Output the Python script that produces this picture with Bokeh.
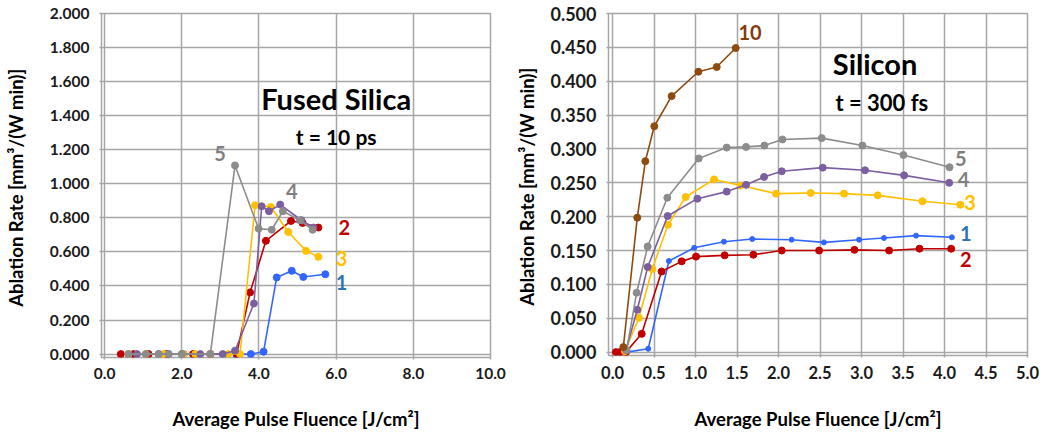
from bokeh.plotting import figure
from bokeh.layouts import row
from bokeh.models import Range1d, Label, NumeralTickFormatter, FixedTicker
from bokeh.embed import file_html
from bokeh.resources import INLINE

# ---------------- Fused Silica (t = 10 ps) ----------------
fs_x1 = [0.62, 1.07, 1.66, 2.05, 2.74, 3.42, 3.79, 4.12, 4.46, 4.85, 5.15, 5.72]
fs_y1 = [0, 0, 0, 0, 0, 0, 0, 0.014, 0.450, 0.489, 0.453, 0.469]
fs_x2 = [0.42, 0.75, 1.14, 1.60, 2.29, 2.74, 3.42, 3.77, 4.18, 4.83, 5.13, 5.54]
fs_y2 = [0, 0, 0, 0, 0, 0, 0, 0.362, 0.665, 0.782, 0.770, 0.743]
fs_x3 = [0.62, 1.07, 1.53, 2.05, 2.35, 2.74, 3.20, 3.51, 3.90, 4.31, 4.76, 5.22, 5.54]
fs_y3 = [0, 0, 0, 0, 0, 0, 0, 0, 0.874, 0.864, 0.717, 0.606, 0.571]
fs_x4 = [0.84, 1.40, 2.00, 2.48, 3.06, 3.38, 3.87, 4.07, 4.26, 4.55, 5.10, 5.41]
fs_y4 = [0, 0, 0, 0, 0, 0.020, 0.297, 0.868, 0.839, 0.878, 0.786, 0.743]
fs_x5 = [0.62, 1.07, 1.40, 1.66, 2.00, 2.74, 3.38, 3.99, 4.33, 4.62, 5.06, 5.39]
fs_y5 = [0, 0, 0, 0, 0, 0, 1.108, 0.737, 0.730, 0.839, 0.786, 0.730]
fs_xticks = [0, 2, 4, 6, 8, 10]
fs_yticks = [0, 0.2, 0.4, 0.6, 0.8, 1.0, 1.2, 1.4, 1.6, 1.8, 2.0]

# ---------------- Silicon (t = 300 fs) ----------------
si_x1 = [0.169, 0.429, 0.678, 0.983, 1.341, 1.682, 2.157, 2.546, 2.970, 3.270, 3.657, 4.088]
si_y1 = [0, 0.005, 0.1345, 0.154, 0.163, 0.167, 0.166, 0.162, 0.166, 0.1685, 0.172, 0.1695]
si_x2 = [0.04, 0.09, 0.16, 0.35, 0.59, 0.832, 1.005, 1.350, 1.696, 2.038, 2.488, 2.914, 3.332, 3.698, 4.080]
si_y2 = [0, 0, 0, 0.027, 0.119, 0.134, 0.141, 0.1429, 0.1438, 0.150, 0.150, 0.151, 0.150, 0.1527, 0.1527]
si_x3 = [0.148, 0.317, 0.478, 0.667, 0.880, 1.222, 1.543, 1.969, 2.387, 2.789, 3.195, 3.734, 4.190]
si_y3 = [0.0015, 0.0507, 0.1227, 0.188, 0.229, 0.255, 0.246, 0.234, 0.235, 0.234, 0.2315, 0.2227, 0.2177]
si_x4 = [0.161, 0.297, 0.422, 0.663, 1.021, 1.375, 1.608, 1.825, 2.038, 2.532, 3.042, 3.513, 4.056]
si_y4 = [0.003, 0.0626, 0.1256, 0.201, 0.2266, 0.237, 0.247, 0.2586, 0.267, 0.2724, 0.2685, 0.261, 0.250]
si_x5 = [0.169, 0.289, 0.422, 0.659, 1.037, 1.375, 1.608, 1.829, 2.046, 2.520, 3.010, 3.505, 4.060]
si_y5 = [0.003, 0.0877, 0.156, 0.228, 0.286, 0.302, 0.303, 0.305, 0.314, 0.316, 0.305, 0.291, 0.273]
si_x10 = [0.129, 0.297, 0.394, 0.502, 0.711, 1.033, 1.254, 1.483]
si_y10 = [0.0074, 0.1985, 0.282, 0.3335, 0.378, 0.414, 0.421, 0.449]
si_xticks = [0, 0.5, 1.0, 1.5, 2.0, 2.5, 3.0, 3.5, 4.0, 4.5, 5.0]
si_yticks = [0, 0.05, 0.1, 0.15, 0.2, 0.25, 0.3, 0.35, 0.4, 0.45, 0.5]

XLABEL = "Average Pulse Fluence [J/cm²]"
YLABEL = "Ablation  Rate [mm³/(W min)]"

BLUE = "#3366FF"
RED = "#C00000"
YELLOW = "#FFC000"
PURPLE = "#7B5FA0"
GRAY = "#8C8C8C"
BROWN = "#8E4B10"
GRID = "#A6A6A6"
TXT = "#1A1A1A"
FONT = "Lato"


def style(p, xticks, yticks, xfmt, yfmt, ylab_standoff, xtick_size, ytick_size):
    p.xaxis.ticker = FixedTicker(ticks=xticks)
    p.yaxis.ticker = FixedTicker(ticks=yticks)
    p.xaxis.formatter = NumeralTickFormatter(format=xfmt)
    p.yaxis.formatter = NumeralTickFormatter(format=yfmt)
    for ax in (p.xaxis, p.yaxis):
        ax.axis_line_color = None
        ax.major_tick_out = 2
        ax.major_tick_in = 0
        ax.minor_tick_line_color = None
        ax.major_tick_line_color = GRID
        ax.major_tick_line_width = 1.5
        ax.major_label_text_font = FONT
        ax.major_label_text_font_style = "bold"
        ax.major_label_text_color = TXT
        ax.axis_label_text_font = FONT
        ax.axis_label_text_font_style = "bold"
        ax.axis_label_text_font_size = "18.5px"
        ax.axis_label_text_color = "#000000"
    p.xaxis.major_label_text_font_size = xtick_size
    p.yaxis.major_label_text_font_size = ytick_size
    p.xaxis.major_label_standoff = 8
    p.yaxis.major_label_standoff = 10
    p.xaxis.axis_label = XLABEL
    p.yaxis.axis_label = YLABEL
    p.xaxis.axis_label_standoff = 26
    p.yaxis.axis_label_standoff = ylab_standoff
    p.xgrid.ticker = FixedTicker(ticks=xticks)
    p.ygrid.ticker = FixedTicker(ticks=yticks)
    for g in (p.xgrid, p.ygrid):
        g.grid_line_color = GRID
        g.grid_line_width = 1.5
    p.outline_line_color = GRID
    p.outline_line_width = 1.5
    p.background_fill_color = "white"
    p.border_fill_color = "white"


def series(p, x, y, color, size=7):
    p.line(x, y, line_color=color, line_width=1.6)
    p.scatter(x, y, size=size, fill_color=color, line_color=color)


def lab(p, x, y, text, color, size="20px", align="center"):
    p.add_layout(Label(x=x, y=y, text=text, text_color=color, text_font=FONT,
                       text_font_style="bold", text_font_size=size,
                       text_align=align, text_baseline="middle"))


# ---- left figure ----
p1 = figure(width=510, height=436, output_backend="svg", toolbar_location=None,
            x_range=Range1d(-0.08, 10.0), y_range=Range1d(-0.02, 2.0),
            frame_width=389, frame_height=344,
            min_border_left=101, min_border_right=20,
            min_border_top=13, min_border_bottom=79)
style(p1, fs_xticks, fs_yticks, "0.0", "0.000", 20, "15.5px", "15.5px")
series(p1, fs_x1, fs_y1, BLUE)
series(p1, fs_x2, fs_y2, RED)
series(p1, fs_x3, fs_y3, YELLOW)
series(p1, fs_x4, fs_y4, PURPLE)
series(p1, fs_x5, fs_y5, GRAY)
lab(p1, 2.99, 1.18, "5", "#7F7F7F")
lab(p1, 4.85, 0.956, "4", "#7F7F7F")
lab(p1, 6.21, 0.741, "2", RED)
lab(p1, 6.14, 0.561, "3", YELLOW)
lab(p1, 6.14, 0.418, "1", "#2E75B6")
lab(p1, 6.0, 1.50, "Fused Silica", "#000000", size="29px")
lab(p1, 6.0, 1.279, "t = 10 ps", "#000000", size="21px")

# ---- right figure ----
p2 = figure(width=534, height=436, output_backend="svg", toolbar_location=None,
            x_range=Range1d(-0.05, 5.0), y_range=Range1d(-0.005, 0.5),
            frame_width=419, frame_height=342,
            min_border_left=98, min_border_right=17,
            min_border_top=13, min_border_bottom=81)
style(p2, si_xticks, si_yticks, "0.0", "0.000", 9, "16.5px", "18px")
series(p2, si_x1, si_y1, BLUE, size=5)
series(p2, si_x2, si_y2, RED)
series(p2, si_x3, si_y3, YELLOW)
series(p2, si_x4, si_y4, PURPLE)
series(p2, si_x5, si_y5, GRAY)
series(p2, si_x10, si_y10, BROWN)
lab(p2, 1.656, 0.472, "10", "#843C0C")
lab(p2, 4.197, 0.286, "5", "#7F7F7F")
lab(p2, 4.228, 0.255, "4", "#7F7F7F")
lab(p2, 4.309, 0.2216, "3", YELLOW)
lab(p2, 4.257, 0.175, "1", "#2E75B6")
lab(p2, 4.257, 0.1365, "2", RED)
lab(p2, 3.163, 0.4267, "Silicon", "#000000", size="29px")
lab(p2, 3.244, 0.369, "t = 300 fs", "#000000", size="22px")

layout = row(p1, p2)
open("out.html", "w").write(file_html(layout, INLINE))
